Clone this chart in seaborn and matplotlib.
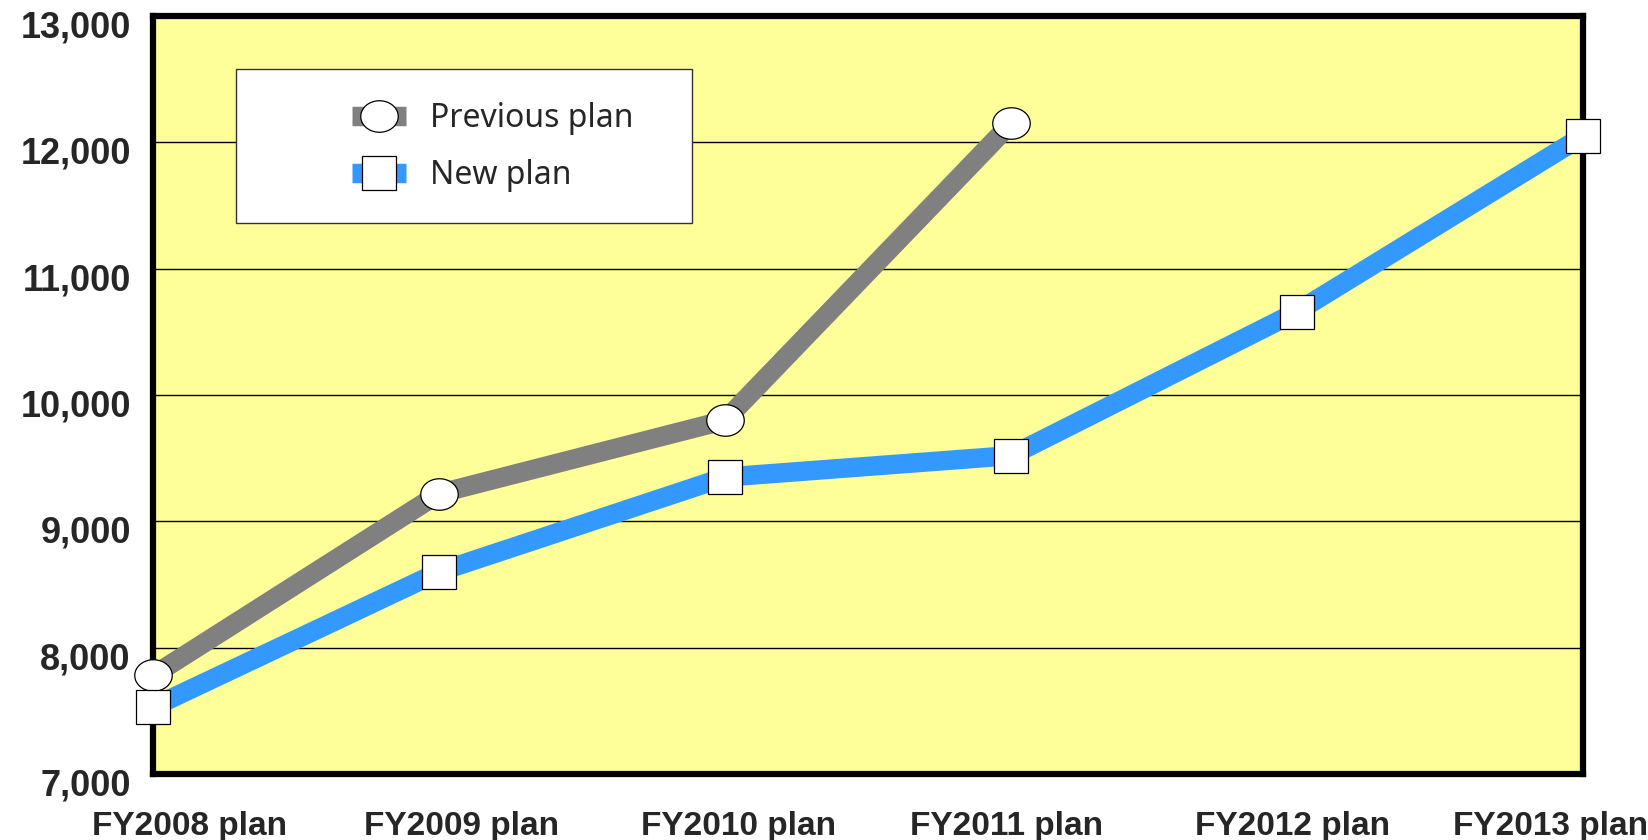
import matplotlib
matplotlib.use("Agg")
import matplotlib.pyplot as plt
import matplotlib.transforms as mtransforms
from matplotlib.path import Path
from matplotlib.lines import Line2D
from matplotlib.patches import Rectangle
import numpy as np
import pandas as pd
import seaborn as sns

categories = ["FY2008 plan", "FY2009 plan", "FY2010 plan", "FY2011 plan", "FY2012 plan", "FY2013 plan"]
previous_plan = [7780, 9220, 9800, 12150]
new_plan = [7530, 8600, 9350, 9520, 10660, 12050]
y_ticks = [7000, 8000, 9000, 10000, 11000, 12000, 13000]
series_names = ["Previous plan", "New plan"]

sns.set_theme(style="white")
plt.rcParams['font.family'] = ['Liberation Sans', 'DejaVu Sans']

DPI = 100
fig = plt.figure(figsize=(16.49, 8.40), dpi=DPI)
ax = fig.add_axes([153/1649, 1-774/840, 1430/1649, 758/840])
ax.set_facecolor("#FFFF99")

df_prev = pd.DataFrame({"x": np.arange(len(previous_plan)), "y": previous_plan})
df_new = pd.DataFrame({"x": np.arange(len(new_plan)), "y": new_plan})

# elliptical marker
t = np.linspace(0, 2*np.pi, 80)
ell = Path(np.column_stack([np.cos(t), 0.84*np.sin(t)]), closed=True)

LW = 14
sns.lineplot(data=df_prev, x="x", y="y", ax=ax, color="#808080", linewidth=LW,
             marker=ell, markersize=27, markerfacecolor="white",
             markeredgecolor="black", markeredgewidth=0.9, zorder=4, clip_on=False)
sns.lineplot(data=df_new, x="x", y="y", ax=ax, color="#3399FF", linewidth=LW,
             marker="s", markersize=24, markerfacecolor="white",
             markeredgecolor="black", markeredgewidth=0.9, zorder=5, clip_on=False)
for ln in ax.lines:
    ln.set_solid_capstyle("butt")
    ln.set_solid_joinstyle("miter")

ax.set_xlim(0, len(categories)-1)
ax.set_ylim(y_ticks[0], y_ticks[-1])
ax.set_yticks(y_ticks)
ax.set_yticklabels([f"{v:,}" for v in y_ticks])
ax.set_xticks(range(len(categories)))
ax.set_xticklabels(categories)
ax.set_xlabel("")
ax.set_ylabel("")

for v in y_ticks[1:-1]:
    ax.axhline(v, color="black", linewidth=1.0, zorder=1)

for s in ax.spines.values():
    s.set_visible(True)
    s.set_color("black")
    s.set_linewidth(4.5)
    s.set_zorder(3)

ax.tick_params(axis="x", direction="in", length=14, width=2.5, color="black", pad=27,
               labelsize=24)
ax.tick_params(axis="y", direction="in", length=0, pad=16, labelsize=26)

# label offsets (pixels) as seen in the reference
x_off = [37, 23, 14, -4, -4, -32]
for lab, dx in zip(ax.get_xticklabels(), x_off):
    lab.set_weight("bold")
    lab.set_transform(lab.get_transform() +
                      mtransforms.ScaledTranslation(dx/DPI, 0, fig.dpi_scale_trans))
offset = mtransforms.ScaledTranslation(0, -8/DPI, fig.dpi_scale_trans)
for lab in ax.get_yticklabels():
    lab.set_weight("bold")
    lab.set_transform(lab.get_transform() + offset)

# legend box
ax.add_patch(Rectangle((0.058, 0.727), 0.319, 0.203, transform=ax.transAxes,
                       facecolor="white", edgecolor="#333333", linewidth=1.0,
                       zorder=6, clip_on=False))
handles = [
    Line2D([], [], color="#808080", linewidth=LW, marker=ell, markersize=27,
           markerfacecolor="white", markeredgecolor="black", markeredgewidth=0.9,
           solid_capstyle="butt"),
    Line2D([], [], color="#3399FF", linewidth=LW, marker="s", markersize=24,
           markerfacecolor="white", markeredgecolor="black", markeredgewidth=0.9,
           solid_capstyle="butt"),
]
leg = ax.legend(handles, series_names, loc="center left",
                bbox_to_anchor=(0.139, 0.8275),
                frameon=False,
                prop={"family": ["Noto Sans", "DejaVu Sans"], "size": 23},
                handlelength=1.7, handletextpad=0.75, borderpad=0, labelspacing=0.75,
                borderaxespad=0)
leg.set_zorder(7)

fig.savefig("out.png", dpi=DPI, facecolor="white")
